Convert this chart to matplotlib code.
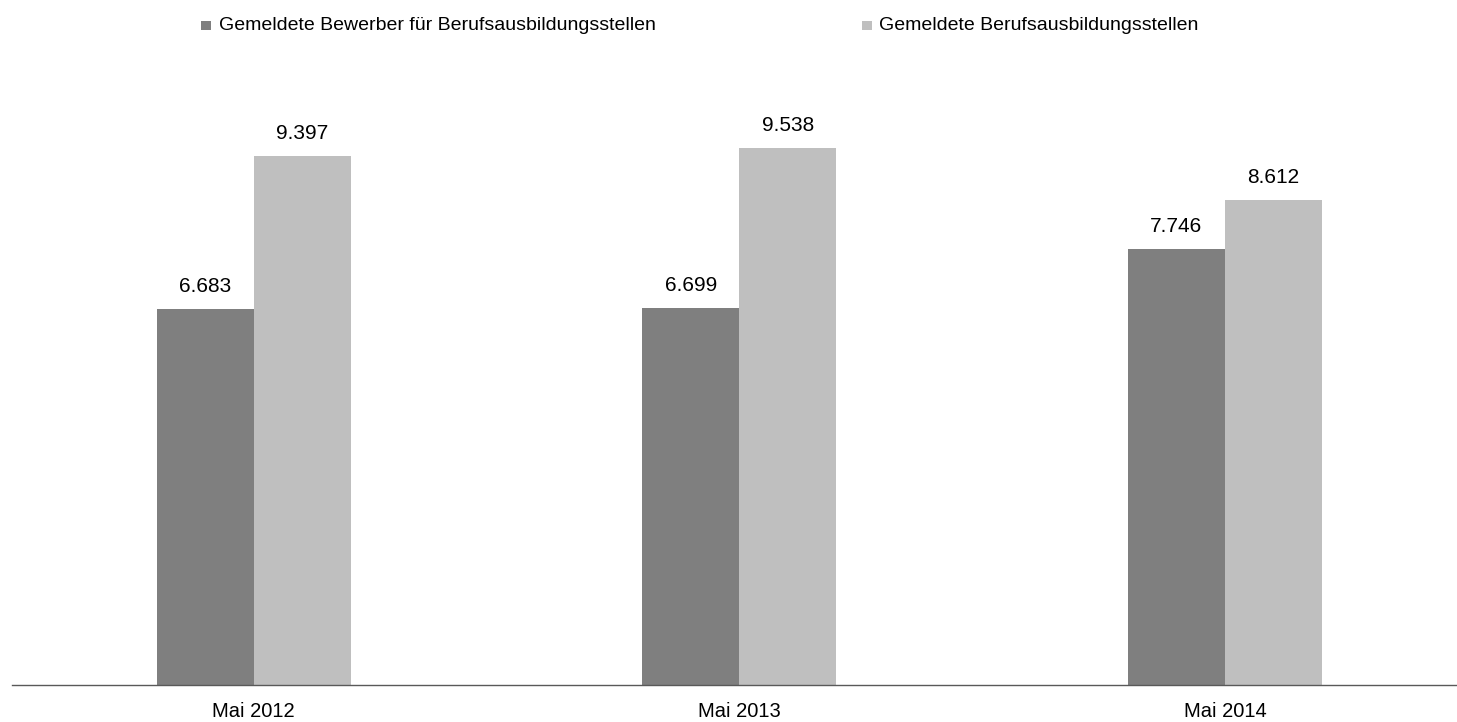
import matplotlib
matplotlib.use("Agg")
import matplotlib.pyplot as plt
from matplotlib.patches import Rectangle
import numpy as np

categories = ["Mai 2012", "Mai 2013", "Mai 2014"]
series_names = ["Gemeldete Bewerber für Berufsausbildungsstellen",
                "Gemeldete Berufsausbildungsstellen"]
bewerber = [6.683, 6.699, 7.746]
stellen = [9.397, 9.538, 8.612]
colors = ["#7f7f7f", "#bfbfbf"]

plt.rcParams['font.family'] = ['Liberation Sans', 'DejaVu Sans']

W, H = 1457, 722
fig = plt.figure(figsize=(W / 100, H / 100), dpi=100)
ax_left, ax_right = 12 / W, 1.0
ax_bottom, ax_top = (H - 685) / H, (H - 9) / H
ax = fig.add_axes([ax_left, ax_bottom, ax_right - ax_left, ax_top - ax_bottom])

x = np.arange(len(categories))
bw = 0.2
b1 = ax.bar(x - bw / 2, bewerber, width=bw, color=colors[0], linewidth=0)
b2 = ax.bar(x + bw / 2, stellen, width=bw, color=colors[1], linewidth=0)

def fmt(v):
    return f"{v:.3f}"

for bars, vals in ((b1, bewerber), (b2, stellen)):
    for rect, v in zip(bars, vals):
        ax.annotate(fmt(v), (rect.get_x() + rect.get_width() / 2, v),
                    xytext=(0, 9), textcoords="offset points",
                    ha="center", va="bottom", fontsize=15, color="#000000")

ax.set_xlim(-0.498, 2.478)
ax.set_ylim(0, 12)
ax.set_xticks(x)
ax.set_xticklabels(categories, fontsize=14.5)
ax.tick_params(axis="x", length=0, pad=12)
ax.set_yticks([])
for s in ("top", "right", "left"):
    ax.spines[s].set_visible(False)
ax.spines["bottom"].set_color("#595959")
ax.spines["bottom"].set_linewidth(1.0)

# legend
leg_y = 1 - 25 / H
for (mx, tx), name, c in zip(((201, 219), (862, 879)), series_names, colors):
    fig.patches.append(Rectangle((mx / W, (H - 30) / H), 10 / W, 9 / H,
                                 transform=fig.transFigure, color=c, linewidth=0))
    fig.text(tx / W, leg_y, name, fontsize=14.0, ha="left", va="center", color="#000000")

fig.savefig("out.png", dpi=100)
